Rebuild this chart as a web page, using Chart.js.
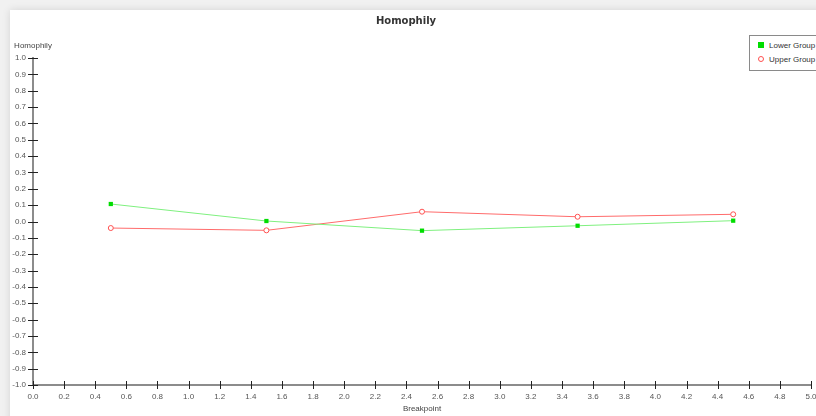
<!DOCTYPE html>
<html>
<head>
<meta charset="utf-8">
<script src="https://cdn.jsdelivr.net/npm/chart.js@4.4.1/dist/chart.umd.min.js"></script>
<style>
  html, body { margin: 0; padding: 0; width: 816px; height: 416px; overflow: hidden; background: #f1f1f1; }
  #card { position: absolute; left: 10px; top: 10px; width: 830px; height: 430px; background: #fff;
          box-shadow: 0 0 8px rgba(0,0,0,0.12); }
  #wrap { position: absolute; left: 0; top: 0; width: 816px; height: 416px; }
  #legend { position: absolute; left: 749px; top: 35px; width: 80px; border: 1px solid #8a8a8a; background: #fff;
            font: 8px "Liberation Sans", Arial, sans-serif; color: #333; padding: 3px 0 3px 0; }
  #legend .item { height: 14px; line-height: 14px; padding-left: 8px; white-space: nowrap; }
  #legend .sym { display: inline-block; width: 6px; height: 6px; margin-right: 5px; vertical-align: -0px; box-sizing: border-box; }
</style>
</head>
<body>
<div id="card"></div>
<div id="wrap"><canvas id="myChart" width="816" height="416"></canvas></div>
<div id="legend"></div>
<script>
// Data
const breakpoints = [0.5, 1.5, 2.5, 3.5, 4.5];
const lowerGroup = [0.107, 0.003, -0.056, -0.026, 0.005];
const upperGroup = [-0.040, -0.054, 0.060, 0.029, 0.044];

// Tick labels
const xTickLabels = ['0.0','0.2','0.4','0.6','0.8','1.0','1.2','1.4','1.6','1.8','2.0','2.2','2.4','2.6','2.8',
                     '3.0','3.2','3.4','3.6','3.8','4.0','4.2','4.4','4.6','4.8','5.0'];
const yTickLabels = ['-1.0','-0.9','-0.8','-0.7','-0.6','-0.5','-0.4','-0.3','-0.2','-0.1','0.0',
                     '0.1','0.2','0.3','0.4','0.5','0.6','0.7','0.8','0.9','1.0'];

const tickFont = { family: '"Liberation Sans", Arial, sans-serif', size: 8 };

// draws tick marks crossing the axis lines, and the horizontal y axis caption
const crossTicks = {
    id: 'crossTicks',
    afterDraw(chart) {
        const c = chart.ctx;
        const xs = chart.scales.x, ys = chart.scales.y;
        const area = chart.chartArea;
        c.save();
        c.strokeStyle = '#222';
        c.lineWidth = 1;
        c.beginPath();
        ys.ticks.forEach((t, i) => {
            const p = Math.round(ys.getPixelForTick(i)) + 0.5;
            c.moveTo(area.left - 5, p);
            c.lineTo(area.left + 5, p);
        });
        xs.ticks.forEach((t, i) => {
            const p = Math.round(xs.getPixelForTick(i)) + 0.5;
            c.moveTo(p, area.bottom - 4);
            c.lineTo(p, area.bottom + 4);
        });
        c.stroke();
        c.fillStyle = '#444';
        c.font = '8px "Liberation Sans", Arial, sans-serif';
        c.textAlign = 'center';
        c.textBaseline = 'middle';
        c.fillText('Homophily', area.left, area.top - 12);
        c.restore();
    }
};

const ctx = document.getElementById('myChart').getContext('2d');
const chart = new Chart(ctx, {
    type: 'line',
    data: {
        datasets: [
            {
                label: 'Lower Group',
                data: breakpoints.map((x, i) => ({ x: x, y: lowerGroup[i] })),
                borderColor: '#7ff07f',
                borderWidth: 1,
                pointStyle: 'rect',
                pointRadius: 3,
                pointBackgroundColor: '#00dd00',
                pointBorderColor: '#00dd00',
                pointBorderWidth: 0
            },
            {
                label: 'Upper Group',
                data: breakpoints.map((x, i) => ({ x: x, y: upperGroup[i] })),
                borderColor: '#ff6b6b',
                borderWidth: 1,
                pointStyle: 'circle',
                pointRadius: 2.5,
                pointBackgroundColor: '#ffffff',
                pointBorderColor: '#ff5050',
                pointBorderWidth: 1
            }
        ]
    },
    options: {
        responsive: false,
        animation: false,
        layout: { padding: { left: 0, right: 4, top: 0, bottom: 0 } },
        plugins: {
            legend: { display: false },
            tooltip: { enabled: false },
            title: {
                display: true,
                text: 'Homophily',
                color: '#333',
                font: { family: '"DejaVu Sans", sans-serif', size: 10, weight: 'bold' },
                padding: { top: 15, bottom: 31 }
            }
        },
        scales: {
            x: {
                type: 'linear',
                min: 0,
                max: 5,
                afterBuildTicks: s => { s.ticks = xTickLabels.map(l => ({ value: parseFloat(l) })); },
                afterFit: s => { s.paddingLeft = 0; s.paddingRight = 0; s.height = 31; },
                ticks: {
                    autoSkip: false,
                    maxRotation: 0,
                    padding: 2,
                    color: '#555',
                    font: tickFont,
                    callback: (v, i) => xTickLabels[i]
                },
                grid: { display: true, drawOnChartArea: false, drawTicks: true, tickLength: 5, color: 'rgba(0,0,0,0)' },
                border: { display: true, color: '#8c8c8c', width: 2 },
                title: {
                    display: true,
                    text: 'Breakpoint',
                    color: '#444',
                    font: tickFont,
                    padding: { top: 0, bottom: 2 }
                }
            },
            y: {
                type: 'linear',
                min: -1,
                max: 1,
                afterBuildTicks: s => { s.ticks = yTickLabels.map(l => ({ value: parseFloat(l) })); },
                afterFit: s => { s.paddingTop = 0; s.paddingBottom = 0; s.width = 33; },
                ticks: {
                    autoSkip: false,
                    padding: 2,
                    color: '#555',
                    font: tickFont,
                    callback: (v, i) => yTickLabels[i]
                },
                grid: { display: true, drawOnChartArea: false, drawTicks: true, tickLength: 5, color: 'rgba(0,0,0,0)' },
                border: { display: true, color: '#8c8c8c', width: 2 }
            }
        }
    },
    plugins: [crossTicks]
});

// Build the legend box from the datasets
const legend = document.getElementById('legend');
chart.data.datasets.forEach(ds => {
    const item = document.createElement('div');
    item.className = 'item';
    const sym = document.createElement('span');
    sym.className = 'sym';
    if (ds.pointStyle === 'rect') {
        sym.style.background = ds.pointBackgroundColor;
    } else {
        sym.style.border = '1px solid ' + ds.pointBorderColor;
        sym.style.borderRadius = '50%';
    }
    item.appendChild(sym);
    item.appendChild(document.createTextNode(ds.label));
    legend.appendChild(item);
});
</script>
</body>
</html>
